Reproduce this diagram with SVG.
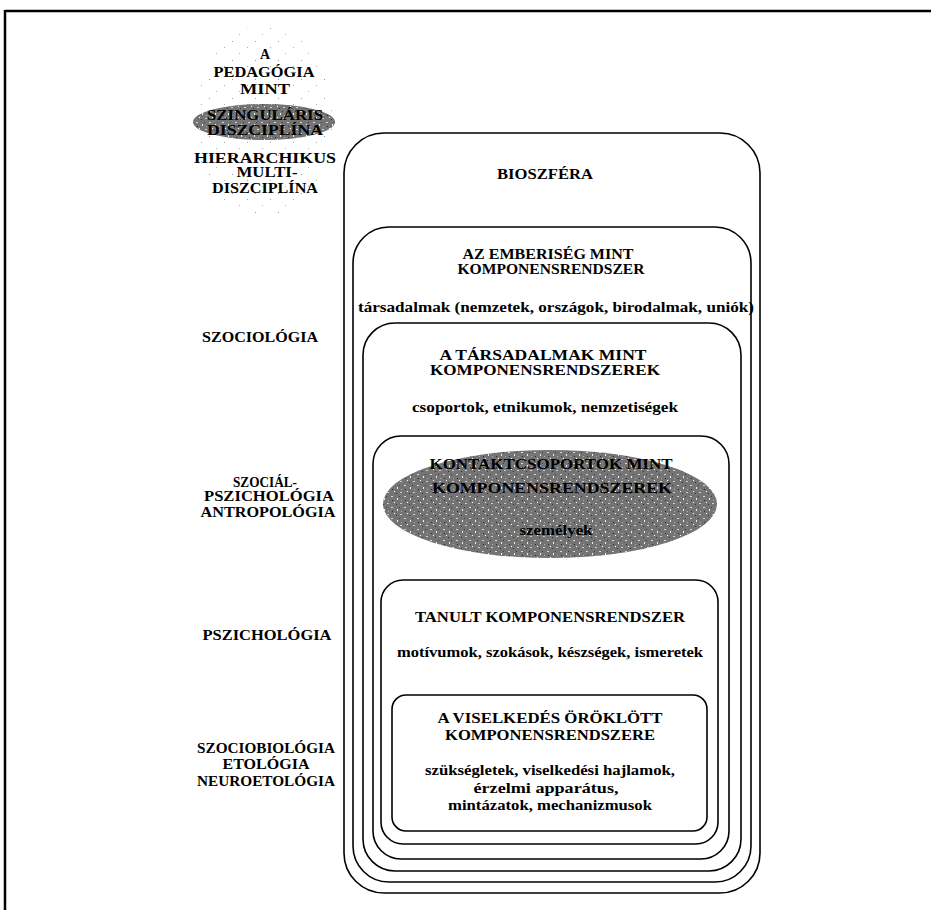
<svg xmlns="http://www.w3.org/2000/svg" width="931" height="910" viewBox="0 0 931 910">
<style>
.t{font-family:"Liberation Serif","Times New Roman",serif;font-weight:bold;font-size:14.5px;fill:#000;text-anchor:middle}
.s{font-size:14px}
.box{fill:none;stroke:#000;stroke-width:1.6}
.frame{stroke:#000;stroke-width:2.5;fill:none}
</style>
<defs>
<pattern id="speck" width="23" height="19" patternUnits="userSpaceOnUse">
<rect x="2" y="3" width="1" height="1" fill="#999"/>
<rect x="17" y="9" width="1" height="1" fill="#aaa"/>
<rect x="9" y="15" width="1" height="1" fill="#b5b5b5"/>
</pattern>
<pattern id="grain" width="13" height="11" patternUnits="userSpaceOnUse">
<rect width="13" height="11" fill="#747474"/>
<rect x="1" y="1" width="2" height="1" fill="#d8d8d8"/>
<rect x="7" y="3" width="1" height="2" fill="#eee"/>
<rect x="10" y="8" width="2" height="1" fill="#cfcfcf"/>
<rect x="4" y="7" width="1" height="1" fill="#fff"/>
<rect x="2" y="5" width="1" height="1" fill="#2a2a2a"/>
<rect x="9" y="1" width="1" height="1" fill="#3a3a3a"/>
<rect x="6" y="9" width="1" height="1" fill="#333"/>
<rect x="11" y="5" width="1" height="1" fill="#b0b0b0"/>
</pattern>
</defs>

<g id="frame">
<line class="frame" x1="5" y1="11" x2="931" y2="11"/>
<line class="frame" x1="5" y1="10" x2="5" y2="910"/>
</g>

<g id="pedagogia">
<ellipse cx="264" cy="122" rx="70" ry="96" fill="url(#speck)"/>
<ellipse cx="264" cy="122" rx="71" ry="18" fill="url(#grain)"/>
<text class="t s" x="265" y="59">A</text>
<text class="t s" x="264" y="77" textLength="101" lengthAdjust="spacingAndGlyphs">PEDAGÓGIA</text>
<text class="t s" x="265" y="94" textLength="50" lengthAdjust="spacingAndGlyphs">MINT</text>
<text class="t s" x="265" y="120" textLength="116" lengthAdjust="spacingAndGlyphs">SZINGULÁRIS</text>
<text class="t s" x="265" y="135" textLength="116" lengthAdjust="spacingAndGlyphs">DISZCIPLÍNA</text>
<text class="t s" x="265" y="163" textLength="142" lengthAdjust="spacingAndGlyphs">HIERARCHIKUS</text>
<text class="t s" x="267" y="177" textLength="61" lengthAdjust="spacingAndGlyphs">MULTI-</text>
<text class="t s" x="265" y="193" textLength="106" lengthAdjust="spacingAndGlyphs">DISZCIPLÍNA</text>
</g>

<g id="disciplines">
<text class="t" x="260" y="342" textLength="116" lengthAdjust="spacingAndGlyphs">SZOCIOLÓGIA</text>
<text class="t s" x="265" y="487" textLength="64" lengthAdjust="spacingAndGlyphs">SZOCIÁL-</text>
<text class="t s" x="269" y="501" textLength="130" lengthAdjust="spacingAndGlyphs">PSZICHOLÓGIA</text>
<text class="t s" x="268" y="517" textLength="135" lengthAdjust="spacingAndGlyphs">ANTROPOLÓGIA</text>
<text class="t" x="267" y="640" textLength="129" lengthAdjust="spacingAndGlyphs">PSZICHOLÓGIA</text>
<text class="t s" x="266" y="753" textLength="138" lengthAdjust="spacingAndGlyphs">SZOCIOBIOLÓGIA</text>
<text class="t s" x="266" y="769" textLength="87" lengthAdjust="spacingAndGlyphs">ETOLÓGIA</text>
<text class="t s" x="266" y="786" textLength="138" lengthAdjust="spacingAndGlyphs">NEUROETOLÓGIA</text>
</g>

<g id="bioszfera">
<rect class="box" x="344" y="133" width="416" height="760" rx="40" ry="40"/>
<text class="t" x="545" y="179" textLength="96" lengthAdjust="spacingAndGlyphs">BIOSZFÉRA</text>
</g>

<g id="emberiseg">
<rect class="box" x="353" y="227" width="398" height="655" rx="36" ry="36"/>
<text class="t s" x="548" y="259" textLength="171" lengthAdjust="spacingAndGlyphs">AZ EMBERISÉG MINT</text>
<text class="t s" x="551" y="274" textLength="187" lengthAdjust="spacingAndGlyphs">KOMPONENSRENDSZER</text>
<text class="t" x="556" y="312" textLength="396" lengthAdjust="spacingAndGlyphs">társadalmak (nemzetek, országok, birodalmak, uniók)</text>
</g>

<g id="tarsadalmak">
<rect class="box" x="363" y="323" width="378" height="548" rx="32" ry="32"/>
<text class="t s" x="543" y="360" textLength="207" lengthAdjust="spacingAndGlyphs">A TÁRSADALMAK MINT</text>
<text class="t s" x="545" y="375" textLength="230" lengthAdjust="spacingAndGlyphs">KOMPONENSRENDSZEREK</text>
<text class="t" x="545" y="412" textLength="266" lengthAdjust="spacingAndGlyphs">csoportok, etnikumok, nemzetiségek</text>
</g>

<g id="kontaktcsoportok">
<rect class="box" x="373" y="436" width="356" height="423" rx="28" ry="28"/>
<ellipse cx="550" cy="504" rx="167" ry="54" fill="url(#grain)"/>
<text class="t" x="551" y="469" textLength="243" lengthAdjust="spacingAndGlyphs">KONTAKTCSOPORTOK MINT</text>
<text class="t" x="552" y="493" textLength="240" lengthAdjust="spacingAndGlyphs">KOMPONENSRENDSZEREK</text>
<text class="t" x="556" y="535" textLength="73" lengthAdjust="spacingAndGlyphs">személyek</text>
</g>

<g id="tanult">
<rect class="box" x="381" y="580" width="337" height="264" rx="22" ry="22"/>
<text class="t" x="550" y="622" textLength="270" lengthAdjust="spacingAndGlyphs">TANULT KOMPONENSRENDSZER</text>
<text class="t" x="550" y="657" textLength="306" lengthAdjust="spacingAndGlyphs">motívumok, szokások, készségek, ismeretek</text>
</g>

<g id="orokolt">
<rect class="box" x="392" y="695" width="315" height="136" rx="14" ry="14"/>
<text class="t s" x="550" y="723" textLength="225" lengthAdjust="spacingAndGlyphs">A VISELKEDÉS ÖRÖKLÖTT</text>
<text class="t s" x="550" y="740" textLength="210" lengthAdjust="spacingAndGlyphs">KOMPONENSRENDSZERE</text>
<text class="t s" x="550" y="775" textLength="250" lengthAdjust="spacingAndGlyphs">szükségletek, viselkedési hajlamok,</text>
<text class="t s" x="546" y="793" textLength="145" lengthAdjust="spacingAndGlyphs">érzelmi apparátus,</text>
<text class="t s" x="550" y="810" textLength="204" lengthAdjust="spacingAndGlyphs">mintázatok, mechanizmusok</text>
</g>
</svg>
